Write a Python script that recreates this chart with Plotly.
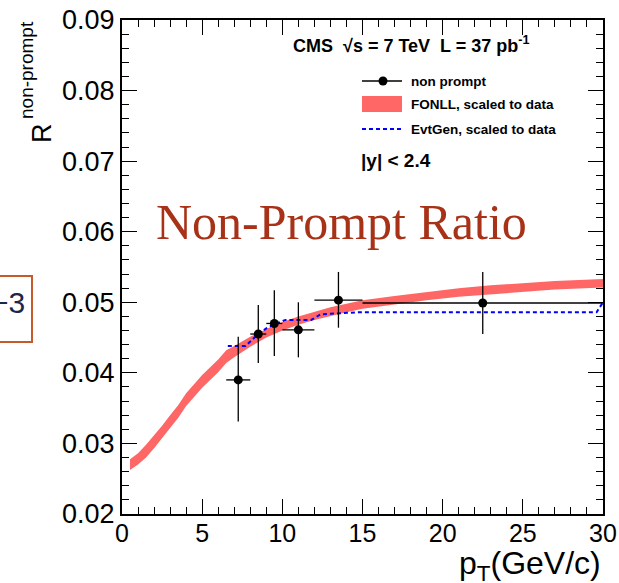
import plotly.graph_objects as go

# ---------------- data ----------------
pt_centers = [7.25, 8.5, 9.5, 11.0, 13.5, 22.5]
pt_err_lo = [0.75, 0.5, 0.5, 1.0, 1.5, 7.5]
pt_err_hi = [0.75, 0.5, 0.5, 1.0, 1.5, 7.5]
ratio_vals = [0.0390, 0.0455, 0.0470, 0.0461, 0.0503, 0.0499]
ratio_err_up = [0.0061, 0.0041, 0.0047, 0.0039, 0.0040, 0.0044]
ratio_err_dn = [0.0059, 0.0041, 0.0046, 0.0039, 0.0039, 0.0044]

fonll_pt = [0.5, 1.0, 1.5, 2.0, 2.5, 3.0, 3.5, 4.0, 5.0, 6.0, 6.5, 7.0, 8.0, 9.0,
            10.0, 11.0, 12.0, 13.0, 14.0, 15.0, 17.0, 19.0, 21.0, 23.0, 25.0, 27.0, 30.0]
fonll_lo = [0.02625, 0.0270, 0.0280, 0.0293, 0.0307, 0.0322, 0.0336, 0.0353, 0.0379, 0.0401,
            0.0414, 0.0422, 0.0437, 0.0450, 0.0460, 0.0468, 0.0475, 0.0481, 0.0486, 0.0491,
            0.0497, 0.0503, 0.0508, 0.0512, 0.0515, 0.0518, 0.0521]
fonll_hi = [0.02775, 0.0286, 0.0298, 0.0311, 0.0325, 0.0340, 0.0354, 0.0371, 0.0397, 0.0419,
            0.0432, 0.0438, 0.0451, 0.0462, 0.0472, 0.0480, 0.0487, 0.0493, 0.0498, 0.0503,
            0.0509, 0.0515, 0.0520, 0.0524, 0.0527, 0.0530, 0.0533]

evtgen_pt = [6.6, 7.7, 8.4, 9.0, 9.5, 10.2, 11.8, 12.4, 14.8, 29.6, 30.0]
evtgen_val = [0.0438, 0.0438, 0.0453, 0.0463, 0.0469, 0.0475, 0.0475, 0.0483, 0.0486, 0.0486, 0.0500]

x_ticks = [0, 5, 10, 15, 20, 25, 30]
y_ticks = [0.02, 0.03, 0.04, 0.05, 0.06, 0.07, 0.08, 0.09]

# ---------------- layout helpers (pixel -> paper) ----------------
W, H = 619, 583
L, R, T, B = 122, 16, 20, 69
PW, PH = W - L - R, H - T - B


def px(x):
    return (x - L) / PW


def py(y):
    return (H - B - y) / PH


SANS = "Liberation Sans, Arial, Helvetica, sans-serif"
SERIF = "Liberation Serif, Times New Roman, serif"
BAND = "rgb(255,102,102)"

fig = go.Figure()

# FONLL band
fig.add_trace(go.Scatter(
    x=fonll_pt + fonll_pt[::-1],
    y=fonll_hi + fonll_lo[::-1],
    fill="toself", fillcolor=BAND, line=dict(width=0, color=BAND),
    mode="lines", hoverinfo="skip", showlegend=False,
))

# EvtGen dashed line
fig.add_trace(go.Scatter(
    x=evtgen_pt, y=evtgen_val, mode="lines",
    line=dict(color="rgb(0,0,255)", width=2, dash="4px,3px"),
    showlegend=False,
))

# data points
fig.add_trace(go.Scatter(
    x=pt_centers, y=ratio_vals, mode="markers",
    marker=dict(color="black", size=9),
    error_x=dict(type="data", symmetric=False, array=pt_err_hi, arrayminus=pt_err_lo,
                 color="black", thickness=1.3, width=0),
    error_y=dict(type="data", symmetric=False, array=ratio_err_up, arrayminus=ratio_err_dn,
                 color="black", thickness=1.3, width=0),
    showlegend=False,
))

axis_common = dict(
    showgrid=False, zeroline=False, showline=True, linecolor="black", linewidth=2,
    mirror="allticks", ticks="inside", ticklen=15, tickwidth=1.2, tickcolor="black",
    automargin=False,
)

fig.update_xaxes(
    range=[0, 30], tickvals=x_ticks, ticktext=[str(v) for v in x_ticks],
    tickfont=dict(family=SANS, size=25, color="black"),
    ticklabelstandoff=-4,
    minor=dict(dtick=1, ticklen=7, tickwidth=1.2, tickcolor="black", ticks="inside"),
    **axis_common,
)
fig.update_yaxes(
    range=[0.02, 0.09], tickvals=y_ticks, ticktext=[f"{v:.2f}" for v in y_ticks],
    tickfont=dict(family=SANS, size=27, color="black"),
    minor=dict(dtick=0.002, ticklen=7, tickwidth=1.2, tickcolor="black", ticks="inside"),
    **axis_common,
)

shapes = []
annotations = []

# legend (manual, ROOT style)
shapes.append(dict(type="line", xref="paper", yref="paper",
                   x0=px(362), x1=px(402), y0=py(81), y1=py(81),
                   line=dict(color="black", width=1.3)))
shapes.append(dict(type="circle", xref="paper", yref="paper",
                   x0=px(378.5), x1=px(387.5), y0=py(85.5), y1=py(76.5),
                   fillcolor="black", line=dict(color="black", width=0)))
shapes.append(dict(type="rect", xref="paper", yref="paper",
                   x0=px(362), x1=px(402), y0=py(112), y1=py(96),
                   fillcolor=BAND, line=dict(width=0)))
shapes.append(dict(type="line", xref="paper", yref="paper",
                   x0=px(362), x1=px(401), y0=py(129), y1=py(129),
                   line=dict(color="rgb(0,0,255)", width=2, dash="4px,3px")))

for txt, yy in [("non prompt", 81), ("FONLL, scaled to data", 104), ("EvtGen, scaled to data", 129)]:
    annotations.append(dict(text=f"<b>{txt}</b>", xref="paper", yref="paper",
                            x=px(409), y=py(yy), xanchor="left", yanchor="middle",
                            showarrow=False, font=dict(family=SANS, size=13.5, color="black")))

annotations.append(dict(text="<b>CMS  √s = 7 TeV  L = 37 pb<sup>-1</sup></b>", xref="paper", yref="paper",
                        x=px(291), y=py(45), xanchor="left", yanchor="middle", showarrow=False,
                        font=dict(family=SANS, size=18, color="black")))
annotations.append(dict(text="<b>|y| < 2.4</b>", xref="paper", yref="paper",
                        x=px(359), y=py(160), xanchor="left", yanchor="middle", showarrow=False,
                        font=dict(family=SANS, size=19, color="black")))

# overlaid slide title
annotations.append(dict(text="Non-Prompt Ratio", xref="paper", yref="paper",
                        x=px(341), y=py(222), xanchor="center", yanchor="middle", showarrow=False,
                        font=dict(family=SERIF, size=50, color="rgb(168,50,24)")))

# y-axis title: R with superscript, drawn as two rotated texts
annotations.append(dict(text="R", xref="paper", yref="paper",
                        x=px(42), y=py(133), xanchor="center", yanchor="middle", textangle=-90,
                        showarrow=False, font=dict(family=SANS, size=27, color="black")))
annotations.append(dict(text="non-prompt", xref="paper", yref="paper",
                        x=px(27), y=py(70), xanchor="center", yanchor="middle", textangle=-90,
                        showarrow=False, font=dict(family=SANS, size=19, color="black")))

# x-axis title
annotations.append(dict(text="p<sub>T</sub>(GeV/c)", xref="paper", yref="paper",
                        x=px(603), y=py(566), xanchor="right", yanchor="middle",
                        showarrow=False, font=dict(family=SANS, size=32, color="black")))

# cut-off slide box with "−3" on the left edge
shapes.append(dict(type="rect", xref="paper", yref="paper",
                   x0=px(-10), x1=px(32), y0=py(342), y1=py(276),
                   line=dict(color="rgb(197,90,43)", width=2), fillcolor="rgba(0,0,0,0)"))
annotations.append(dict(text="−3", xref="paper", yref="paper",
                        x=px(27), y=py(302), xanchor="right", yanchor="middle", showarrow=False,
                        font=dict(family=SANS, size=30, color="rgb(28,40,70)")))

fig.update_layout(
    width=W, height=H, autosize=False,
    margin=dict(l=L, r=R, t=T, b=B, pad=0),
    paper_bgcolor="white", plot_bgcolor="white",
    shapes=shapes, annotations=annotations, showlegend=False,
)

fig.write_html("out.html")
